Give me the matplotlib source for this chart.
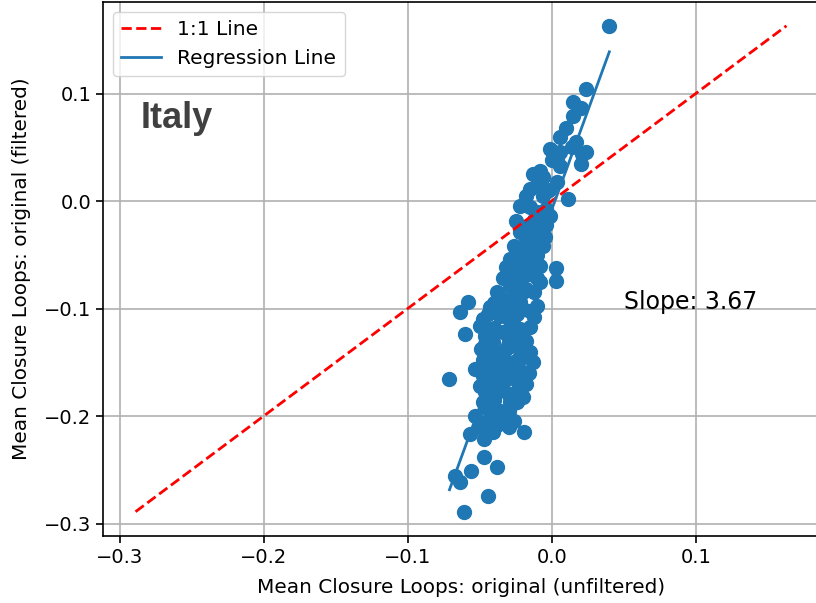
import matplotlib
matplotlib.use("Agg")
import matplotlib.pyplot as plt
import numpy as np

# mean closure loops per pair: unfiltered (x) vs filtered (y)
x_vals = [
    0.040, 0.024, 0.015, 0.020, 0.015, 0.010, 0.006, -0.001, 0.017, 0.024,
    0.006, 0.021, 0.020, 0.006, 0.001, 0.004, 0.014, -0.013, -0.006, -0.015,
    0.004, 0.011, -0.006, -0.022, -0.015, -0.004, -0.010, -0.002, -0.025, -0.008,
    -0.001, -0.022, -0.008, -0.005, -0.018, -0.006, -0.020, -0.024, -0.013, -0.029,
    -0.032, -0.020, -0.008, 0.003, -0.026, -0.015, 0.003, -0.012, -0.016, -0.010,
    -0.028, -0.022, -0.010, -0.058, -0.064, -0.043, -0.034, -0.029, -0.018, -0.008,
    -0.010, -0.015, -0.022, -0.048, -0.036, -0.027, -0.015, -0.050, -0.060, -0.046,
    -0.034, -0.022, -0.020, -0.029, -0.049, -0.041, -0.015, -0.022, -0.013, -0.034,
    -0.043, -0.053, -0.029, -0.071, -0.048, -0.039, -0.025, -0.020, -0.046, -0.034,
    -0.025, -0.048, -0.029, -0.024, -0.053, -0.043, -0.034, -0.026, -0.057, -0.047,
    -0.041, -0.019, -0.047, -0.038, -0.056, -0.067, -0.064, -0.044, -0.061,
    -0.038, -0.032, -0.024, -0.040, -0.030, -0.038, -0.024, -0.044, -0.036, -0.030,
    -0.042, -0.030, -0.040, -0.036, -0.044, -0.030, -0.018, -0.016, -0.020, -0.026,
    -0.012, -0.034, -0.018, -0.026, -0.014, -0.030,
    -0.018, -0.010, -0.014, -0.024, -0.020, -0.040, -0.030, -0.020, -0.044, -0.025,
    -0.012, -0.046, -0.032, -0.018, -0.026, -0.040, -0.048, -0.020, -0.044, -0.034,
    -0.022, -0.050, -0.038, -0.028, -0.046, -0.020, -0.038, -0.030, -0.050, -0.012,
    -0.004, -0.018, -0.008, 0.000,
]
y_vals = [
    0.163, 0.104, 0.092, 0.087, 0.079, 0.068, 0.060, 0.048, 0.055, 0.046,
    0.046, 0.044, 0.034, 0.033, 0.046, 0.040, 0.050, 0.025, 0.022, 0.011,
    0.018, 0.002, 0.005, -0.005, -0.006, -0.007, 0.015, 0.010, -0.019, -0.019,
    -0.014, -0.029, -0.029, -0.033, -0.038, -0.042, -0.045, -0.051, -0.051, -0.054,
    -0.061, -0.060, -0.060, -0.062, -0.070, -0.068, -0.074, -0.040, -0.022, -0.010,
    -0.065, -0.075, -0.072, -0.094, -0.103, -0.099, -0.091, -0.079, -0.082, -0.075,
    -0.098, -0.102, -0.094, -0.110, -0.107, -0.113, -0.117, -0.116, -0.124, -0.126,
    -0.122, -0.119, -0.128, -0.135, -0.138, -0.131, -0.140, -0.144, -0.150, -0.147,
    -0.150, -0.156, -0.155, -0.166, -0.163, -0.166, -0.166, -0.159, -0.178, -0.175,
    -0.178, -0.187, -0.187, -0.187, -0.200, -0.196, -0.203, -0.205, -0.217, -0.221,
    -0.215, -0.215, -0.238, -0.247, -0.251, -0.256, -0.261, -0.274, -0.289,
    -0.085, -0.100, -0.105, -0.118, -0.128, -0.140, -0.135, -0.143, -0.158, -0.165,
    -0.170, -0.180, -0.185, -0.195, -0.205, -0.195, -0.170, -0.160, -0.085, -0.090,
    -0.085, -0.072, -0.055, -0.042, -0.030, -0.110,
    -0.048, -0.050, -0.062, -0.062, -0.070, -0.095, -0.096, -0.100, -0.105, -0.120,
    -0.108, -0.133, -0.138, -0.130, -0.150, -0.155, -0.148, -0.145, -0.160, -0.168,
    -0.172, -0.172, -0.178, -0.190, -0.192, -0.182, -0.208, -0.210, -0.210, -0.018,
    -0.022, 0.005, 0.028, 0.038,
]

slope = 3.67
intercept = -0.008
country = "Italy"

x = np.array(x_vals)
y = np.array(y_vals)

fig = plt.figure(figsize=(8.16, 6.03), dpi=100)
ax = fig.add_axes([0.1262, 0.1111, 0.8775, 0.8864])

ax.scatter(x, y, s=100, color="#1f77b4", zorder=2)

# identity line over the full data range
lo = min(x.min(), y.min())
hi = max(x.max(), y.max())
ax.plot([lo, hi], [lo, hi], "r--", linewidth=2, label="1:1 Line", zorder=3)

# fitted line
xr = np.array([x.min(), x.max()])
ax.plot(xr, slope * xr + intercept, color="#1f77b4", linewidth=2,
        label="Regression Line", zorder=3)

ax.text(0.05, -0.1, f"Slope: {slope:.2f}", fontsize=17)
ax.text(0.052, 0.763, country, transform=ax.transAxes, fontsize=26,
        fontweight="bold", color="#404040", family="Liberation Sans")

ax.set_xlabel("Mean Closure Loops: original (unfiltered)", fontsize=14.4,
              labelpad=8)
ax.set_ylabel("Mean Closure Loops: original (filtered)", fontsize=14.4,
              labelpad=9)
ax.tick_params(axis="both", labelsize=14, width=1.2, length=5)
for sp in ax.spines.values():
    sp.set_linewidth(1.2)
ax.grid(True, color="#b0b0b0", linewidth=1.2)
ax.set_axisbelow(True)
ax.legend(loc="upper left", fontsize=14.5)

fig.savefig("out.png", dpi=100)
